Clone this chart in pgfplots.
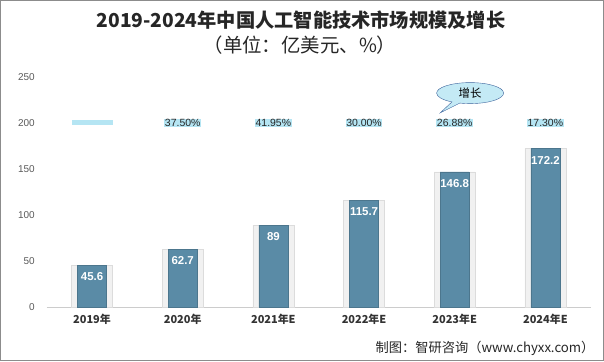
\documentclass[border=0pt]{standalone}
\usepackage{pgfplots}
\pgfplotsset{compat=1.18}
\usepackage{fontspec}
\setmainfont{Liberation Sans}
\newfontfamily\cjk{Noto Sans CJK SC}
\usetikzlibrary{shapes.callouts}
\definecolor{barc}{HTML}{5A8BA6}
\definecolor{outc}{HTML}{F1F1F1}
\definecolor{outd}{HTML}{DCDCDC}
\definecolor{pctc}{HTML}{B5E5F3}
\definecolor{tickc}{HTML}{595959}
\begin{document}
\begin{tikzpicture}[x=1bp,y=1bp]
\useasboundingbox (-46.7,-54) rectangle (557.3,307);
\draw[color=black!45,line width=1bp] (-46.2,-53.5) rectangle (556.8,306.5);
\node[font=\cjk\bfseries\fontsize{19.3}{21}\selectfont, text=black!85] at (254.3,287) {2019-2024年中国人工智能技术市场规模及增长};
\node[font=\cjk\fontsize{19.5}{21}\selectfont, text=black!85] at (253.3,262) {（单位：亿美元、\%）};
\node[font=\cjk\fontsize{13.3}{15}\selectfont, text=black!85, anchor=east] at (551.3,-41) {制图：智研咨询（www.chyxx.com）};
\begin{axis}[
  at={(0,0)}, anchor=south west,
  scale only axis, width=544bp, height=230bp,
  xmin=-0.5, xmax=5.5, ymin=0, ymax=250,
  axis x line*=bottom, axis y line=none,
  x axis line style={draw=black!20, -},
  xtick={0,1,2,3,4,5},
  xticklabels={2019年,2020年,2021年E,2022年E,2023年E,2024年E},
  xticklabel style={font=\cjk\bfseries\fontsize{11}{12}\selectfont, text=black!80, yshift=-4bp},
  major tick length=0pt,
  clip=false,
  /pgf/number format/assume math mode=true,
]
\addplot[ybar, bar width=41bp, bar shift=0pt, fill=outc, draw=outd] coordinates {(0,45.6) (1,62.7) (2,89) (3,115.7) (4,146.8) (5,172.2)};
\addplot[ybar, bar width=29bp, bar shift=0pt, fill=barc, draw=barc!85!black,
  nodes near coords, nodes near coords align={below},
  nodes near coords style={font=\bfseries\fontsize{11.5}{12}\selectfont, text=white, anchor=north, yshift=-4bp, /pgf/number format/fixed, /pgf/number format/precision=1, /pgf/number format/assume math mode=true}]
  coordinates {(0,45.6) (1,62.7) (2,89) (3,115.7) (4,146.8) (5,172.2)};
\addplot[draw=none, mark=none, nodes near coords, point meta=explicit symbolic,
  nodes near coords style={font=\fontsize{10.5}{12}\selectfont, text=black!85, fill=pctc, anchor=center, inner sep=0.5bp}]
  coordinates {(1,200) [37.50\%] (2,200) [41.95\%] (3,200) [30.00\%] (4,200) [26.88\%] (5,200) [17.30\%]};
\addplot[draw=none, mark=none, nodes near coords, point meta=explicit symbolic,
  nodes near coords style={fill=pctc, anchor=center, inner sep=0pt, minimum width=41bp, minimum height=5bp, yshift=1bp}]
  coordinates {(0,200) []};
\node[ellipse callout, draw=black!45!cyan!60!blue, fill=pctc!80, minimum width=67bp, minimum height=21bp, inner sep=0pt,
  callout absolute pointer={(axis cs:3.84,211)}, font=\cjk\fontsize{11.5}{12}\selectfont] at (axis cs:4.17,232.5) {增长};
\end{axis}
\foreach \v/\t in {0/0,50/50,100/100,150/150,200/200,250/250}
  \node[anchor=east, font=\fontsize{10}{12}\selectfont, text=tickc] at (-8.5,{\v*0.92}) {\t};
\end{tikzpicture}
\end{document}
